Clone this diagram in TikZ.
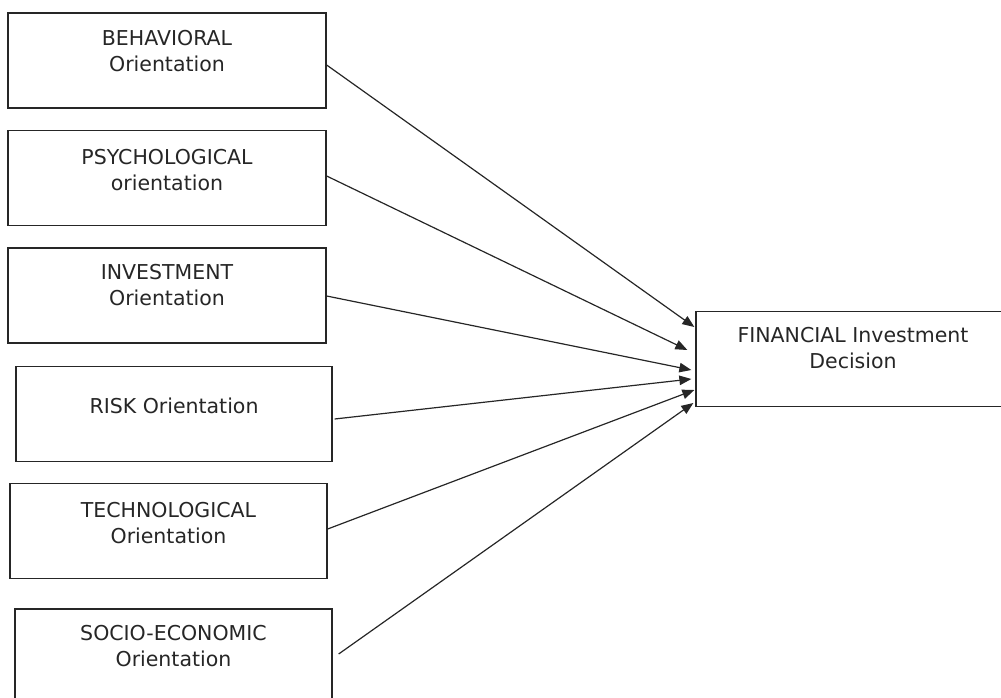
\documentclass[tikz,border=0pt]{standalone}
\usepackage{fontspec}
\setmainfont{DejaVu Sans}
\usetikzlibrary{arrows.meta,calc}
\begin{document}
\begin{tikzpicture}[x=1pt,y=-1pt,
  box/.style={draw=black!85,line width=1.3pt,rectangle,inner sep=0pt,minimum width=#1,minimum height=95pt},
  box/.default=318pt,
  txt/.style={anchor=north,inner sep=0pt,align=center,font=\fontsize{20.5}{26}\selectfont,text=black!85},
  conn/.style={draw=black!85,line width=1.2pt,-{Triangle[length=12pt,width=9.5pt]}}]
\useasboundingbox (0,0) rectangle (1001,698);
% boxes
\node[box=318pt] (b1) at (167,60.5) {};
\node[box=318pt] (b2) at (167,178) {};
\node[box=318pt] (b3) at (167,295.5) {};
\node[box=316pt] (b4) at (174,414) {};
\node[box=317pt] (b5) at (168.5,531) {};
\node[box=317pt] (b6) at (173.5,656.5) {};
\node[box=314pt] (fin) at (853,359) {};
% labels
\node[txt] (l1) at (167,30.5) {BEHAVIORAL\\Orientation};
\node[txt] (l2) at (167,149.5) {PSYCHOLOGICAL\\orientation};
\node[txt] (l3) at (167,264.5) {INVESTMENT\\Orientation};
\node[txt] (l4) at (174,397.5) {RISK Orientation};
\node[txt] (l5) at (168.5,502.5) {TECHNOLOGICAL\\Orientation};
\node[txt] (l6) at (173.5,625.5) {SOCIO-ECONOMIC\\Orientation};
\node[txt] (lf) at (853,327.5) {FINANCIAL Investment\\Decision};
% connectors
\draw[conn] ($(b1.east)+(0,4.5)$) -- ($(fin.west)+(-1,-32)$);
\draw[conn] ($(b2.east)+(0,-2)$) -- ($(fin.west)+(-8,-9)$);
\draw[conn] ($(b3.east)+(0,0.5)$) -- ($(fin.west)+(-4,11)$);
\draw[conn] ($(b4.east)+(2,5)$) -- ($(fin.west)+(-4,20)$);
\draw[conn] ($(b5.east)+(0,-2)$) -- ($(fin.west)+(-1,31)$);
\draw[conn] ($(b6.east)+(6,-2.5)$) -- ($(fin.west)+(-2,44)$);
\end{tikzpicture}
\end{document}
